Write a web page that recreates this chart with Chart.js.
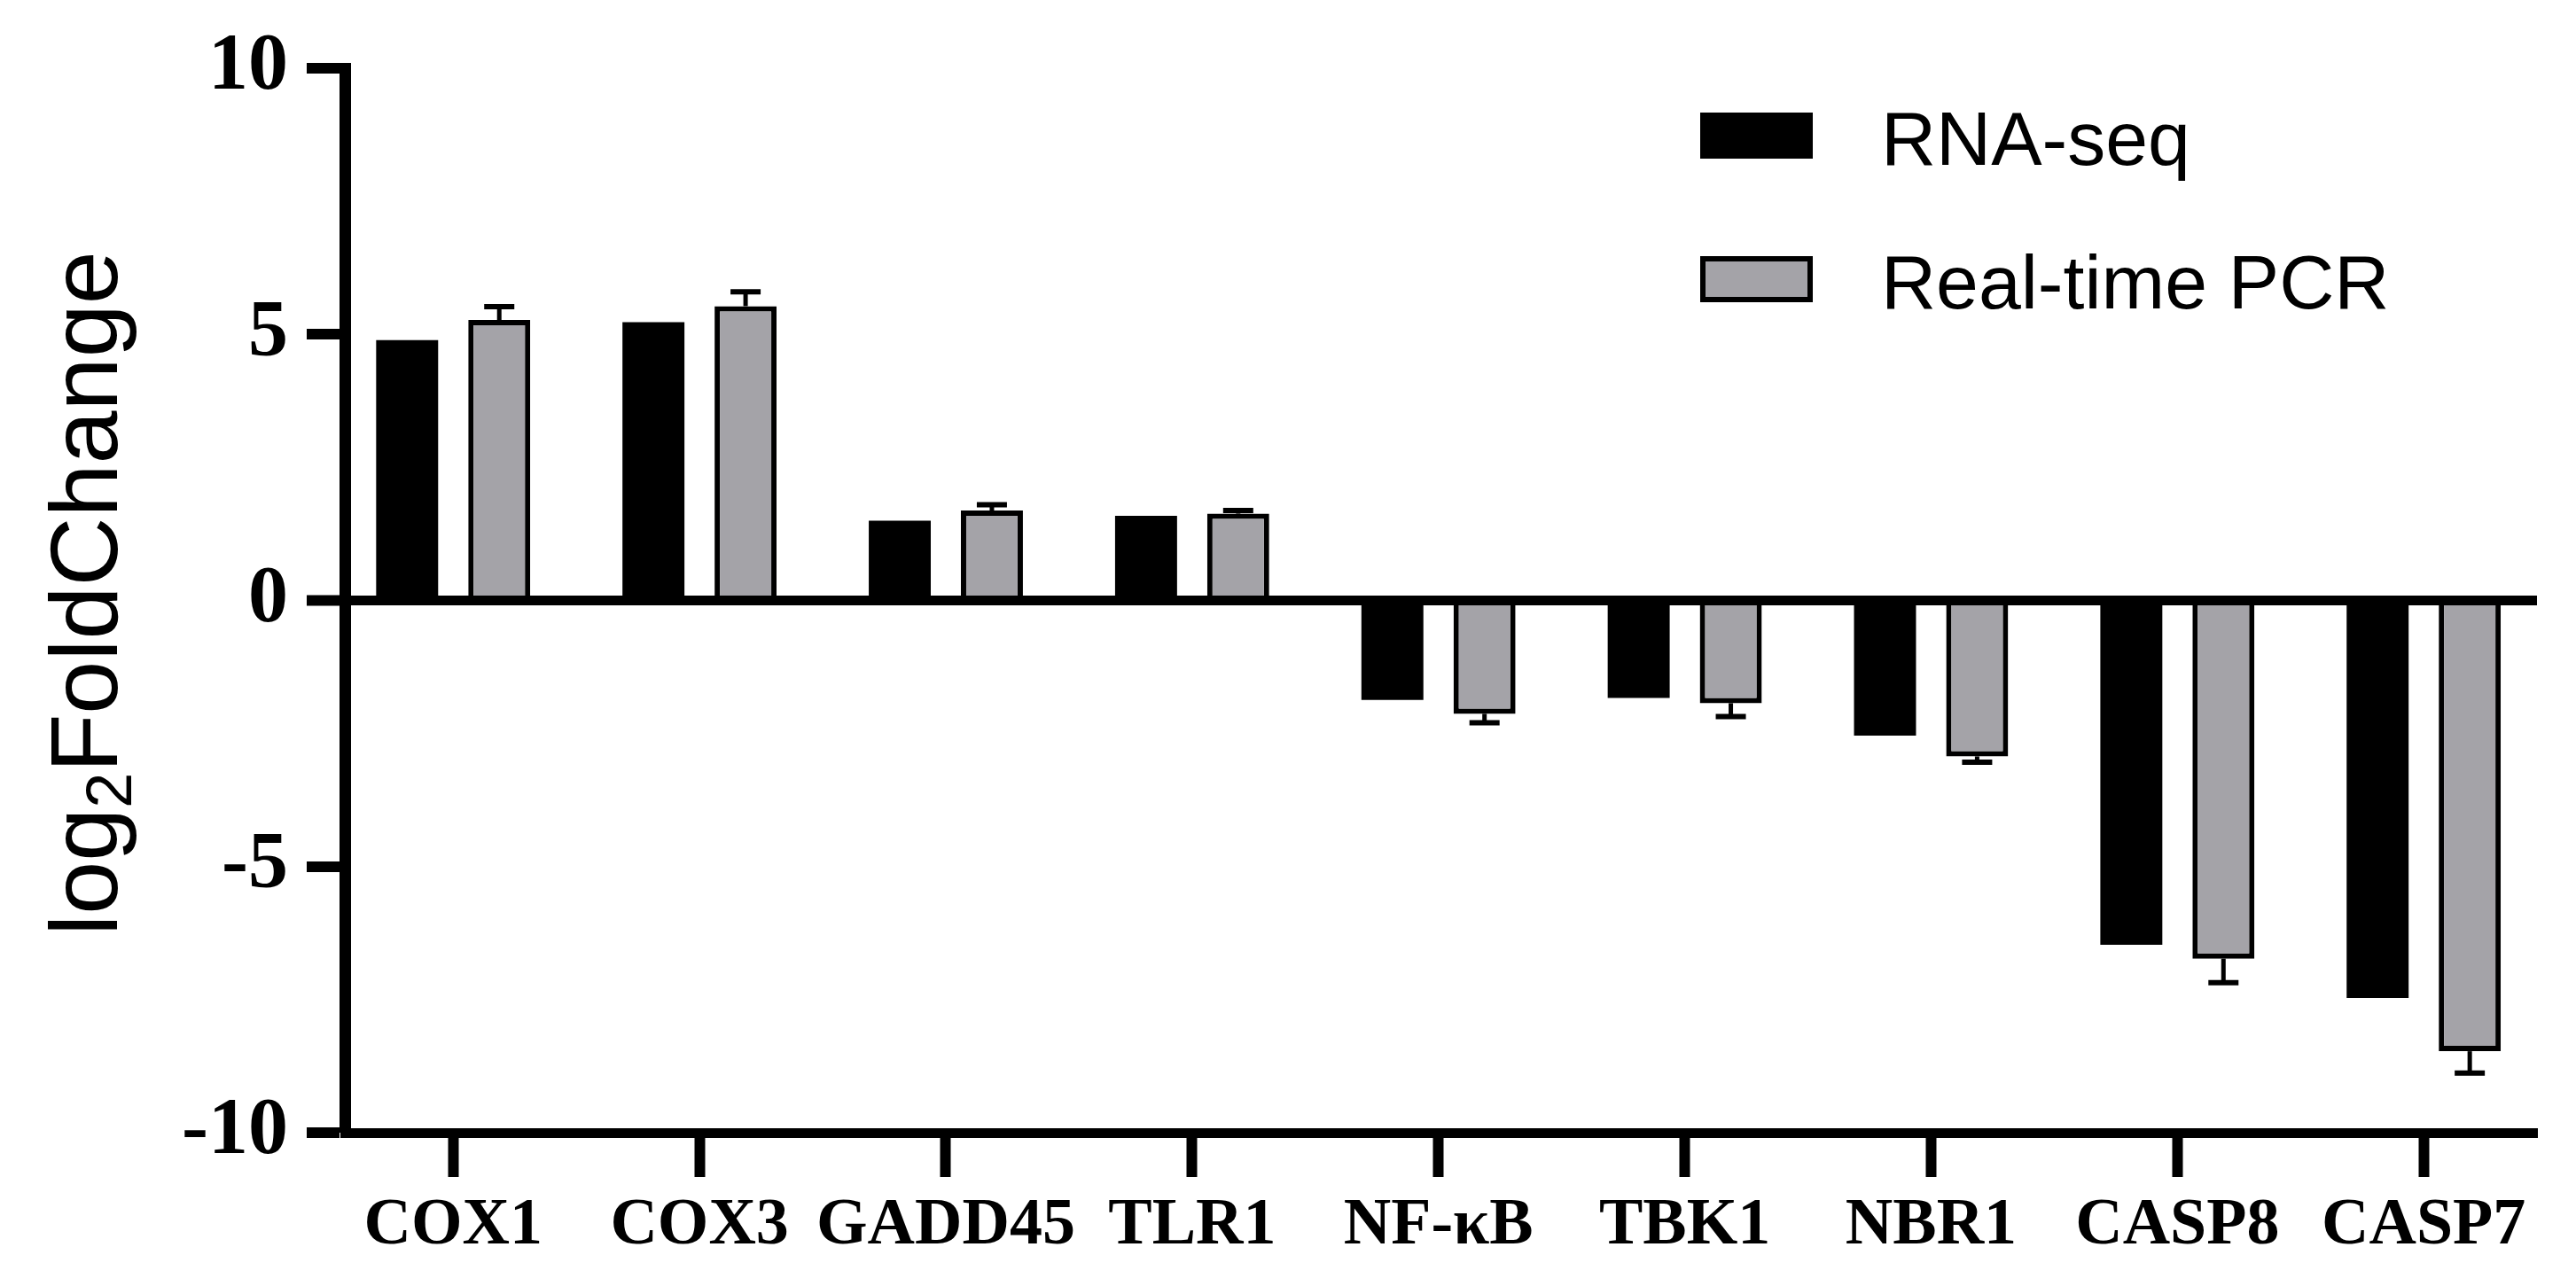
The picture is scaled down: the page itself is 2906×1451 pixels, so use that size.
<!DOCTYPE html>
<html>
<head>
<meta charset="utf-8">
<script src="https://cdn.jsdelivr.net/npm/chart.js@4.4.1/dist/chart.umd.min.js"></script>
<style>
  html, body { margin: 0; padding: 0; background: #fff; overflow: hidden; }
  #wrap { width: 2906px; height: 1451px; position: relative; }
</style>
</head>
<body>
<div id="wrap"><canvas id="myChart"></canvas></div>
<script>
// 데이터
const categories = ['COX1', 'COX3', 'GADD45', 'TLR1', 'NF-κB', 'TBK1', 'NBR1', 'CASP8', 'CASP7'];
const rnaSeq = [4.89, 5.23, 1.50, 1.59, -1.87, -1.83, -2.54, -6.47, -7.47];
const pcr = [5.27, 5.53, 1.69, 1.63, -2.13, -1.93, -2.93, -6.73, -8.47];
const pcrErr = [0.25, 0.27, 0.11, 0.06, 0.17, 0.25, 0.11, 0.45, 0.41];
const seriesNames = ['RNA-seq', 'Real-time PCR'];
const yTicks = [-10, -5, 0, 5, 10];

const GREY = '#a4a3a8';

// 오차 막대 (Real-time PCR)
const errorBars = {
    id: 'errorBars',
    afterDatasetsDraw(chart) {
        const meta = chart.getDatasetMeta(1);
        const y = chart.scales.y;
        const ctx = chart.ctx;
        ctx.save();
        ctx.strokeStyle = '#000';
        meta.data.forEach((bar, i) => {
            const v = pcr[i];
            const end = v >= 0 ? v + pcrErr[i] : v - pcrErr[i];
            const y0 = y.getPixelForValue(v);
            const y1 = y.getPixelForValue(end);
            ctx.lineWidth = 5;
            ctx.beginPath();
            ctx.moveTo(bar.x, y0);
            ctx.lineTo(bar.x, y1);
            ctx.stroke();
            ctx.lineWidth = 6;
            ctx.beginPath();
            ctx.moveTo(bar.x - 17, y1);
            ctx.lineTo(bar.x + 17, y1);
            ctx.stroke();
        });
        ctx.restore();
    }
};

// 범례 (차트 안쪽 오른쪽 위)
const legendBox = {
    id: 'legendBox',
    afterDraw(chart) {
        const ctx = chart.ctx;
        ctx.save();
        chart.data.datasets.forEach((ds, i) => {
            const top = 127 + i * 162;
            ctx.fillStyle = ds.backgroundColor;
            ctx.fillRect(1918, top, 127, 52);
            if (ds.borderWidth) {
                ctx.lineWidth = 6;
                ctx.strokeStyle = '#000';
                ctx.strokeRect(1921, top + 3, 121, 46);
            }
            ctx.fillStyle = '#000';
            ctx.font = '86px "Liberation Sans", Arial, sans-serif';
            ctx.textBaseline = 'alphabetic';
            ctx.textAlign = 'left';
            ctx.fillText(ds.label, 2122, top + 59);
        });
        ctx.restore();
    }
};

// y축 제목 log2FoldChange (아래 첨자 포함)
const yTitle = {
    id: 'yTitle',
    afterDraw(chart) {
        const ctx = chart.ctx;
        const area = chart.chartArea;
        const big = '108px "Liberation Sans", Arial, sans-serif';
        const small = '72px "Liberation Sans", Arial, sans-serif';
        ctx.save();
        ctx.font = big;
        const w1 = ctx.measureText('log').width;
        const w3 = ctx.measureText('FoldChange').width;
        ctx.font = small;
        const w2 = ctx.measureText('2').width;
        const total = w1 + w2 + w3;
        ctx.translate(132, (area.top + area.bottom) / 2 - 8);
        ctx.rotate(-Math.PI / 2);
        ctx.fillStyle = '#000';
        ctx.textBaseline = 'alphabetic';
        ctx.textAlign = 'left';
        let x = -total / 2;
        ctx.font = big;
        ctx.fillText('log', x, 0);
        x += w1;
        ctx.font = small;
        ctx.fillText('2', x, 16);
        x += w2;
        ctx.font = big;
        ctx.fillText('FoldChange', x, 0);
        ctx.restore();
    }
};

const chartCanvas = document.getElementById('myChart');

new Chart(chartCanvas, {
    type: 'bar',
    data: {
        datasets: [{
            label: seriesNames[0],
            data: categories.map((c, i) => ({ x: i, y: rnaSeq[i] })),
            backgroundColor: '#000000',
            borderWidth: 0
        }, {
            label: seriesNames[1],
            data: categories.map((c, i) => ({ x: i, y: pcr[i] })),
            backgroundColor: GREY,
            borderColor: '#000000',
            borderWidth: 6
        }]
    },
    options: {
        responsive: true,
        maintainAspectRatio: false,
        animation: false,
        categoryPercentage: 0.748,
        barPercentage: 0.673,
        layout: { padding: { top: 77, right: 44, left: 0, bottom: 0 } },
        plugins: {
            legend: { display: false },
            tooltip: { enabled: false }
        },
        scales: {
            x: {
                type: 'linear',
                min: -0.44,
                max: 8.46,
                offset: false,
                afterFit(scale) { scale.height = 173; },
                afterBuildTicks(scale) {
                    scale.ticks = categories.map((c, i) => ({ value: i }));
                },
                border: { display: true, color: '#000', width: 11 },
                grid: {
                    offset: false,
                    drawOnChartArea: false,
                    drawTicks: true,
                    tickLength: 50,
                    tickWidth: 12,
                    tickColor: '#000'
                },
                ticks: {
                    autoSkip: false,
                    maxRotation: 0,
                    padding: 11,
                    color: '#000',
                    font: { family: '"Liberation Serif", "Times New Roman", serif', size: 74, weight: 'bold' },
                    callback: (v) => categories[v]
                }
            },
            y: {
                min: -10,
                max: 10,
                z: 1,
                afterFit(scale) { scale.width = 389; },
                afterBuildTicks(scale) {
                    scale.ticks = yTicks.map(v => ({ value: v }));
                },
                border: { display: true, color: '#000', width: 13 },
                grid: {
                    drawTicks: true,
                    tickLength: 43,
                    tickWidth: 12,
                    tickColor: '#000',
                    color: (ctx) => ctx.tick && ctx.tick.value === 0 ? '#000' : 'rgba(0,0,0,0)',
                    lineWidth: (ctx) => ctx.tick && ctx.tick.value === 0 ? 11 : 0
                },
                ticks: {
                    padding: 21,
                    color: '#000',
                    font: { family: '"Liberation Serif", "Times New Roman", serif', size: 90, weight: 'bold' }
                }
            }
        }
    },
    plugins: [errorBars, legendBox, yTitle]
});
</script>
</body>
</html>
